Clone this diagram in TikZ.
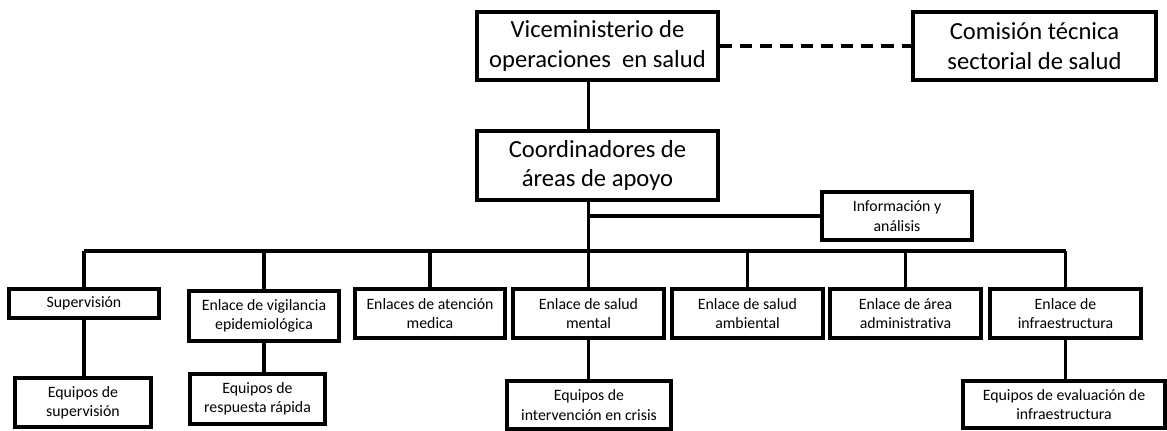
\documentclass[tikz,border=0pt]{standalone}
\usepackage{fontspec}
\setmainfont{Carlito}[Ligatures=NoCommon]
\usepackage{tikz}
\usetikzlibrary{calc}

\tikzset{
	bigbox/.style={draw, line width=2pt, align=center, inner sep=0pt, font=\fontsize{14}{17}\selectfont},
	smallbox/.style={draw, line width=1.9pt, align=center, inner sep=0pt, font=\fontsize{9}{11}\selectfont},
	link/.style={line width=1.9pt},
	dashlink/.style={line width=2pt, dash pattern=on 7pt off 4.5pt}
}

\begin{document}
\begin{tikzpicture}[x=0.02cm, y=-0.02cm]
		%%%%% START %%%%%
		\useasboundingbox (0, 0) rectangle (1167, 430);
		
		\node[bigbox, minimum width=4.82cm, minimum height=1.36cm] (vice) at (597.5, 46) {Viceministerio de\\operaciones~ en salud};
		\node[bigbox, minimum width=4.86cm, minimum height=1.36cm] (comision) at (1034.5, 46) {Comisión técnica\\sectorial de salud};
		\node[bigbox, minimum width=4.82cm, minimum height=1.38cm] (coord) at (597.5, 165.5) {Coordinadores de\\áreas de apoyo};
		
		\node[smallbox, minimum width=3cm, minimum height=0.96cm] (info) at (897, 216) {Información y\\análisis};
		
		\node[smallbox, minimum width=3cm, minimum height=0.58cm] (sup) at (84, 303.5) {Supervisión};
		\node[smallbox, minimum width=3cm, minimum height=1cm] (vig) at (264, 316) {Enlace de vigilancia\\epidemiológica};
		\node[smallbox, minimum width=3cm, minimum height=0.98cm] (aten) at (430, 313.5) {Enlaces de atención\\medica};
		\node[smallbox, minimum width=3.02cm, minimum height=0.98cm] (mental) at (588.5, 313.5) {Enlace de salud\\mental};
		\node[smallbox, minimum width=3.02cm, minimum height=0.98cm] (ambiental) at (747.5, 313.5) {Enlace de salud\\ambiental};
		\node[smallbox, minimum width=3.02cm, minimum height=0.98cm] (admin) at (905.5, 313.5) {Enlace de área\\administrativa};
		\node[smallbox, minimum width=3.02cm, minimum height=0.98cm] (infra) at (1065.5, 313.5) {Enlace de\\infraestructura};
		
		\node[smallbox, minimum width=2.72cm, minimum height=0.98cm] (eqsup) at (83, 402.5) {Equipos de\\supervisión};
		\node[smallbox, minimum width=2.7cm, minimum height=1cm] (eqresp) at (257.5, 399) {Equipos de\\respuesta rápida};
		\node[smallbox, minimum width=3.28cm, minimum height=0.96cm] (eqcrisis) at (589, 405) {Equipos de\\intervención en crisis};
		\node[smallbox, minimum width=4.04cm, minimum height=0.94cm] (eqinfra) at (1064, 404.5) {Equipos de evaluación de\\infraestructura};
		
		\coordinate (bus) at (0, 251);
		
		\draw[dashlink] (vice.east) -- (comision.west);
		
		\draw[link] (vice.south -| mental.north) -- (coord.north -| mental.north);
		\draw[link] (coord.south -| mental.north) -- (mental.north);
		\draw[link] (info.west) -- (info.west -| mental.north);
		
		\draw[link] (sup.north |- bus) -- (infra.north |- bus);
		\foreach \unit in {sup, vig, aten, ambiental, admin, infra}
			\draw[link] (\unit.north |- bus) -- (\unit.north);
		
		\draw[link] (sup.south) -- (sup.south |- eqsup.north);
		\draw[link] (vig.south) -- (vig.south |- eqresp.north);
		\draw[link] (mental.south) -- (eqcrisis.north -| mental.south);
		\draw[link] (infra.south) -- (infra.south |- eqinfra.north);
		
		%%%%% END %%%%%
	\end{tikzpicture}
\end{document}
